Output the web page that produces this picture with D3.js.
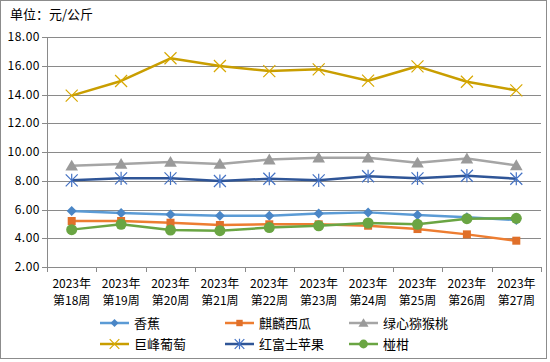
<!DOCTYPE html>
<html>
<head>
<meta charset="utf-8">
<script src="https://cdn.jsdelivr.net/npm/d3@7/dist/d3.min.js"></script>
<style>
	body { margin: 0; background: #fff; }
	svg { display: block; }
	text { font-family: "SimSun", "Noto Sans CJK SC", sans-serif; fill: #000; }
</style>
</head>
<body>
<div id="chart"></div>
<script>
// Data
const weeks = ["第18周", "第19周", "第20周", "第21周", "第22周", "第23周", "第24周", "第25周", "第26周", "第27周"];
const yearLabel = "2023年";
const banana = [5.89, 5.76, 5.65, 5.57, 5.57, 5.73, 5.80, 5.62, 5.46, 5.27];
const watermelon = [5.20, 5.20, 5.08, 4.92, 4.97, 4.97, 4.87, 4.64, 4.27, 3.83];
const kiwi = [9.05, 9.17, 9.30, 9.17, 9.47, 9.60, 9.60, 9.26, 9.54, 9.07];
const grape = [13.92, 14.94, 16.52, 15.98, 15.63, 15.75, 14.96, 15.96, 14.89, 14.29];
const fuji = [8.03, 8.17, 8.17, 7.98, 8.14, 8.03, 8.31, 8.17, 8.35, 8.14];
const ponkan = [4.60, 4.97, 4.57, 4.53, 4.74, 4.87, 5.06, 4.97, 5.36, 5.39];
const yTicks = [2, 4, 6, 8, 10, 12, 14, 16, 18];

const series = [
	{ name: "香蕉", values: banana, line: "#5B9BD5", fill: "#4A86C6", marker: "diamond" },
	{ name: "麒麟西瓜", values: watermelon, line: "#ED7D31", fill: "#E0702A", marker: "square" },
	{ name: "绿心猕猴桃", values: kiwi, line: "#A5A5A5", fill: "#9A9A9A", marker: "triangle" },
	{ name: "巨峰葡萄", values: grape, line: "#C99E00", fill: "#D8A800", marker: "x" },
	{ name: "红富士苹果", values: fuji, line: "#2F5597", fill: "#4472C4", marker: "star" },
	{ name: "椪柑", values: ponkan, line: "#6AA543", fill: "#6AA543", marker: "circle" }
];

const width = 550, height = 362;
const margin = { left: 47, right: 9, top: 37, bottom: 95 };

const svg = d3.select("#chart").append("svg")
	.attr("width", width)
	.attr("height", height);

// Outer border
svg.append("rect")
	.attr("x", 0.5).attr("y", 0.5)
	.attr("width", 546).attr("height", 358)
	.attr("fill", "#fff")
	.attr("stroke", "#8c8c8c");

svg.append("text")
	.attr("x", 10).attr("y", 19)
	.style("font-size", "13px")
	.text("单位：元/公斤");

const x = d3.scaleBand()
	.domain(weeks)
	.range([margin.left, width - margin.right]);

const y = d3.scaleLinear()
	.domain([2, 18])
	.range([height - margin.bottom, margin.top]);

// Gridlines
svg.append("g")
	.selectAll("line")
	.data(yTicks)
	.join("line")
	.attr("x1", margin.left - 5)
	.attr("x2", width - margin.right)
	.attr("y1", d => Math.round(y(d)) + 0.5)
	.attr("y2", d => Math.round(y(d)) + 0.5)
	.attr("stroke", "#8a8a8a");

// Y axis line
svg.append("line")
	.attr("x1", margin.left + 0.5).attr("x2", margin.left + 0.5)
	.attr("y1", y(18)).attr("y2", y(2) + 5)
	.attr("stroke", "#8a8a8a");

// Y labels
svg.append("g")
	.selectAll("text")
	.data(yTicks)
	.join("text")
	.attr("x", margin.left - 7)
	.attr("y", d => y(d) + 4)
	.attr("text-anchor", "end")
	.style("font-size", "12px")
	.style("letter-spacing", "0.5px")
	.text(d => d3.format(".2f")(d));

// X ticks at band edges
const edges = weeks.map(w => x(w)).concat([x.range()[1]]);
svg.append("g")
	.selectAll("line")
	.data(edges)
	.join("line")
	.attr("x1", d => Math.round(d) + 0.5)
	.attr("x2", d => Math.round(d) + 0.5)
	.attr("y1", y(2))
	.attr("y2", y(2) + 5)
	.attr("stroke", "#8a8a8a");

// X labels
const xl = svg.append("g")
	.selectAll("text")
	.data(weeks)
	.join("text")
	.attr("text-anchor", "middle")
	.style("font-size", "12px");
xl.append("tspan")
	.attr("x", d => x(d) + x.bandwidth() / 2)
	.attr("y", 288)
	.text(yearLabel);
xl.append("tspan")
	.attr("x", d => x(d) + x.bandwidth() / 2)
	.attr("y", 305)
	.text(d => d);

// Markers
function drawMarker(g, type, color, size) {
	const s = size;
	if (type === "diamond") {
		g.append("path").attr("d", `M0,${-s}L${s},0L0,${s}L${-s},0Z`).attr("fill", color);
	} else if (type === "square") {
		g.append("rect").attr("x", -s * 0.8).attr("y", -s * 0.8).attr("width", s * 1.6).attr("height", s * 1.6).attr("fill", color);
	} else if (type === "triangle") {
		g.append("path").attr("d", `M0,${-s}L${s * 1.05},${s * 0.8}L${-s * 1.05},${s * 0.8}Z`).attr("fill", color);
	} else if (type === "circle") {
		g.append("circle").attr("r", s).attr("fill", color);
	} else if (type === "x") {
		g.append("path").attr("d", `M${-s},${-s}L${s},${s}M${-s},${s}L${s},${-s}`).attr("stroke", color).attr("stroke-width", 1.2);
	} else if (type === "star") {
		g.append("path").attr("d", `M${-s},${-s}L${s},${s}M${-s},${s}L${s},${-s}M0,${-s * 1.1}L0,${s * 1.1}`).attr("stroke", color).attr("stroke-width", 1.2);
	}
}

const line = d3.line()
	.x((d, i) => x(weeks[i]) + x.bandwidth() / 2)
	.y(d => y(d));

const markerSize = { diamond: 5, square: 5, triangle: 6, circle: 5.5, x: 6, star: 6 };

series.forEach(s => {
	svg.append("path")
		.datum(s.values)
		.attr("d", line)
		.attr("fill", "none")
		.attr("stroke", s.line)
		.attr("stroke-width", 2.5)
		.attr("stroke-linejoin", "round");
	s.values.forEach((v, i) => {
		const g = svg.append("g")
			.attr("transform", `translate(${x(weeks[i]) + x.bandwidth() / 2},${y(v)})`);
		drawMarker(g, s.marker, s.fill, markerSize[s.marker]);
	});
});

// Legend
const legendCols = [100, 225, 349];
const legendRows = [323, 344];
series.forEach((s, i) => {
	const lx = legendCols[i % 3], ly = legendRows[Math.floor(i / 3)];
	const g = svg.append("g");
	g.append("line")
		.attr("x1", lx).attr("x2", lx + 29)
		.attr("y1", ly).attr("y2", ly)
		.attr("stroke", s.line)
		.attr("stroke-width", 2.5);
	const m = g.append("g").attr("transform", `translate(${lx + 14.5},${ly})`);
	drawMarker(m, s.marker, s.fill, markerSize[s.marker] * 0.8);
	g.append("text")
		.attr("x", lx + 34)
		.attr("y", ly + 5)
		.style("font-size", "13px")
		.text(s.name);
});
</script>
</body>
</html>
